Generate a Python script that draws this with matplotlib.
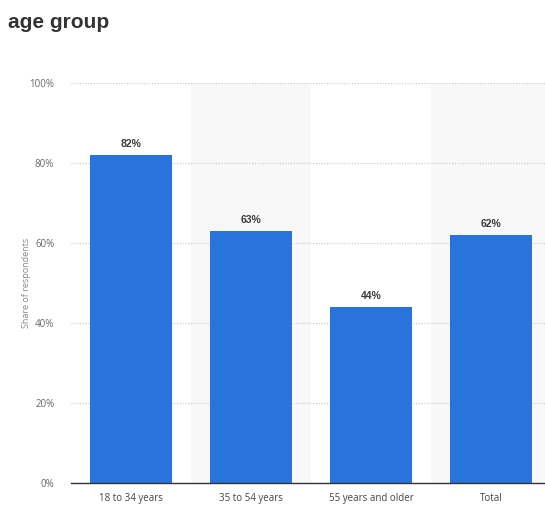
import matplotlib
matplotlib.use("Agg")
import matplotlib.pyplot as plt

categories = ["18 to 34 years", "35 to 54 years", "55 years and older", "Total"]
values = [82, 63, 44, 62]
yticks = [0, 20, 40, 60, 80, 100]
ytick_labels = ["0%", "20%", "40%", "60%", "80%", "100%"]

plt.rcParams['font.family'] = ['Liberation Sans', 'DejaVu Sans']

fig = plt.figure(figsize=(5.45, 5.05), dpi=100)
ax = fig.add_axes([71/545, 1 - 483/505, 1 - 71/545, (483 - 83)/505])

x = list(range(len(categories)))
for i in x:
    if i % 2 == 1:
        ax.axvspan(i - 0.5, i + 0.5, color="#f8f8f8", zorder=0, lw=0)

ax.bar(x, values, width=0.69, color="#2874dc", zorder=3)
for xi, v in zip(x, values):
    ax.text(xi, v + 1.4, f"{v}%", ha="center", va="bottom", fontsize=7.5,
            fontweight="bold", color="#3a3a3a", zorder=4)

ax.set_xlim(-0.5, 3.45)
ax.set_ylim(0, 100)
ax.set_yticks(yticks)
ax.set_yticklabels(ytick_labels, family=["Open Sans", "DejaVu Sans"])
ax.set_xticks(x)
ax.set_xticklabels(categories, family=["Open Sans", "DejaVu Sans"])
ax.yaxis.grid(True, linestyle=(0, (1, 1.5)), color="#c8c8c8", lw=0.8, zorder=1)
ax.set_axisbelow(True)
for s in ["top", "right", "left"]:
    ax.spines[s].set_visible(False)
ax.spines["bottom"].set_color("#333333")
ax.spines["bottom"].set_linewidth(1.0)
ax.spines["bottom"].set_zorder(5)
ax.tick_params(axis="y", length=0, pad=12, labelsize=7, labelcolor="#666666")
ax.tick_params(axis="x", length=0, pad=7, labelsize=7, labelcolor="#444444")
ax.set_ylabel("Share of respondents", fontsize=6.5, color="#888888",
              family=["Open Sans", "DejaVu Sans"])
ax.yaxis.set_label_coords(-0.085, 0.5)

fig.text(8/545, 1 - 22/505, "age group", fontsize=15, fontweight="bold",
         color="#333333", ha="left", va="center")

fig.savefig("out.png", dpi=100)
